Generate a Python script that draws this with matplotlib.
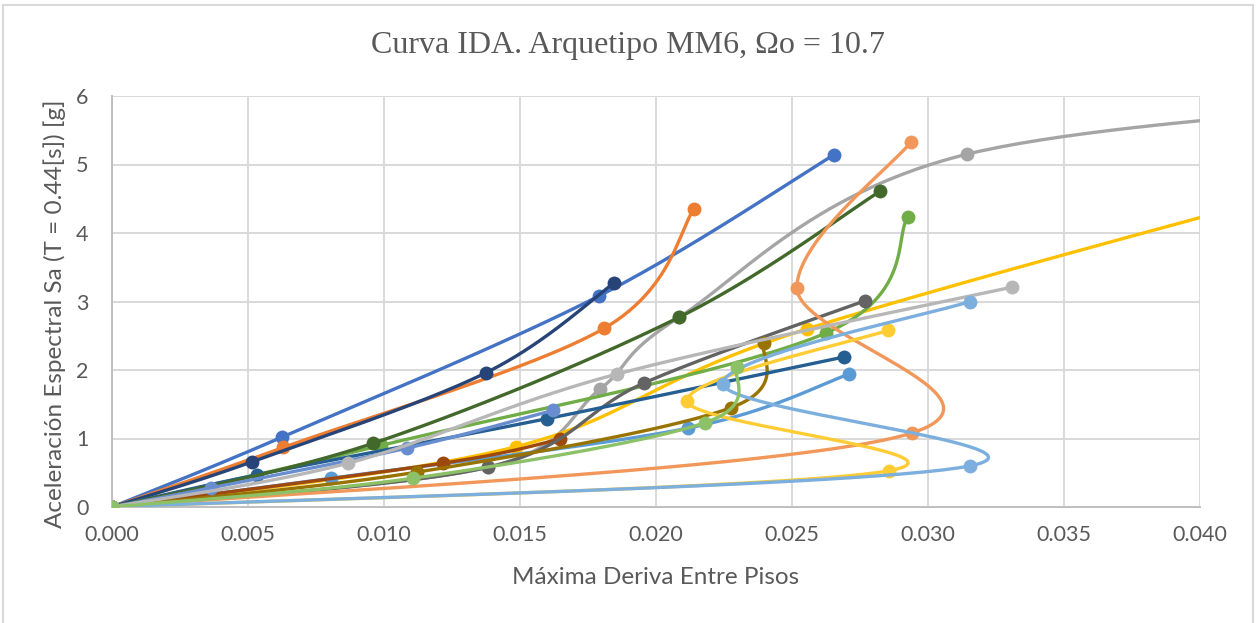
import numpy as np
import matplotlib
matplotlib.use("Agg")
import matplotlib.pyplot as plt
from matplotlib.patches import Rectangle

# ---------------- data ----------------
title = "Curva IDA. Arquetipo MM6, \u03a9o = 10.7"
x_label = "Máxima Deriva Entre Pisos"
y_label = "Aceleración Espectral Sa (T = 0.44[s]) [g]"

x_ticks = [0.000, 0.005, 0.010, 0.015, 0.020, 0.025, 0.030, 0.035, 0.040]
y_ticks = [0, 1, 2, 3, 4, 5, 6]

colors = ["#4472C4", "#ED7D31", "#A5A5A5", "#FFC000", "#5B9BD5", "#70AD47",
          "#264478", "#9E480E", "#636363", "#997300", "#255E91", "#43682B",
          "#698ED0", "#F1975A", "#B7B7B7", "#FFCD33", "#7CAFDD", "#8CC168"]

drift_01 = [0.0, 0.00625, 0.0179, 0.02654]
sa_01 = [0.0, 1.02, 3.08, 5.14]
drift_02 = [0.0, 0.0063, 0.0181, 0.0214]
sa_02 = [0.0, 0.87, 2.61, 4.35]
drift_03 = [0.0, 0.01382, 0.01794, 0.02085, 0.03143, 0.055]
sa_03 = [0.0, 0.58, 1.72, 2.77, 5.15, 6.1]
drift_04 = [0.0, 0.01485, 0.02555, 0.050]
sa_04 = [0.0, 0.88, 2.60, 5.3]
drift_05 = [0.0, 0.00805, 0.02116, 0.02710]
sa_05 = [0.0, 0.42, 1.15, 1.94]
drift_06 = [0.0, 0.0099, 0.02625, 0.02926]
sa_06 = [0.0, 0.90, 2.54, 4.23]
drift_07 = [0.0, 0.00515, 0.01375, 0.01846]
sa_07 = [0.0, 0.66, 1.96, 3.27]
drift_08 = [0.0, 0.01217, 0.01647]
sa_08 = [0.0, 0.64, 0.99]
drift_09 = [0.0, 0.01382, 0.01956, 0.02768]
sa_09 = [0.0, 0.58, 1.81, 3.01]
drift_10 = [0.0, 0.01123, 0.02276, 0.02397]
sa_10 = [0.0, 0.51, 1.45, 2.39]
drift_11 = [0.0, 0.00533, 0.0160, 0.02691]
sa_11 = [0.0, 0.47, 1.29, 2.19]
drift_12 = [0.0, 0.0096, 0.02085, 0.02824]
sa_12 = [0.0, 0.93, 2.77, 4.61]
drift_13 = [0.0, 0.00364, 0.01085, 0.01621]
sa_13 = [0.0, 0.28, 0.86, 1.41]
drift_14 = [0.0, 0.0294, 0.02518, 0.02938]
sa_14 = [0.0, 1.08, 3.20, 5.33]
drift_15 = [0.0, 0.00868, 0.01856, 0.03309]
sa_15 = [0.0, 0.64, 1.94, 3.21]
drift_16 = [0.0, 0.02857, 0.02114, 0.02853]
sa_16 = [0.0, 0.53, 1.55, 2.58]
drift_17 = [0.0, 0.03154, 0.02246, 0.03154]
sa_17 = [0.0, 0.60, 1.80, 3.00]
drift_18 = [0.0, 0.01107, 0.0218, 0.02296]
sa_18 = [0.0, 0.42, 1.23, 2.04]

drifts = [drift_01, drift_02, drift_03, drift_04, drift_05, drift_06, drift_07,
          drift_08, drift_09, drift_10, drift_11, drift_12, drift_13, drift_14,
          drift_15, drift_16, drift_17, drift_18]
sas = [sa_01, sa_02, sa_03, sa_04, sa_05, sa_06, sa_07, sa_08, sa_09, sa_10,
       sa_11, sa_12, sa_13, sa_14, sa_15, sa_16, sa_17, sa_18]

# ---------------- figure ----------------
W, H = 1257, 623
fig = plt.figure(figsize=(W / 100, H / 100), dpi=100)
ax = fig.add_axes([112 / W, 1 - 507 / H, (1200 - 112) / W, (507 - 96) / H])
ax.set_xlim(0, 0.040)
ax.set_ylim(0, 6)

text_col = "#595959"
grid_col = "#D9D9D9"
ax.set_xticks(x_ticks)
ax.set_yticks(y_ticks)
ax.set_xticklabels([f"{v:.3f}" for v in x_ticks], fontfamily="Lato",
                   fontsize=15.5, color=text_col)
ax.set_yticklabels([f"{v:d}" for v in y_ticks], fontfamily="Lato",
                   fontsize=15.5, color=text_col)
ax.tick_params(length=0, pad=13)
ax.tick_params(axis="y", pad=17)
ax.grid(True, color=grid_col, lw=1.4)
ax.set_axisbelow(True)
for s in ["top", "right"]:
    ax.spines[s].set_visible(False)
for s in ["left", "bottom"]:
    ax.spines[s].set_color("#BFBFBF")
    ax.spines[s].set_linewidth(1.4)

fig.canvas.draw()


def smooth_curve(xs, ys, n=60):
    """Excel-like smoothed line: cubic Bezier with Catmull-Rom tangents
    computed in display space."""
    pts = ax.transData.transform(np.column_stack([xs, ys]))
    m = len(pts)
    out = [pts[0]]
    t = np.linspace(0, 1, n)[1:]
    for i in range(m - 1):
        p0 = pts[i - 1] if i > 0 else pts[i]
        p1 = pts[i]
        p2 = pts[i + 1]
        p3 = pts[i + 2] if i + 2 < m else pts[i + 1]
        c1 = p1 + (p2 - p0) / 6.0
        c2 = p2 - (p3 - p1) / 6.0
        seg = ((1 - t) ** 3)[:, None] * p1 + (3 * (1 - t) ** 2 * t)[:, None] * c1 \
            + (3 * (1 - t) * t ** 2)[:, None] * c2 + (t ** 3)[:, None] * p2
        out.extend(seg)
    out = np.array(out)
    data = ax.transData.inverted().transform(out)
    return data[:, 0], data[:, 1]


z = 3
for xs, ys, c in zip(drifts, sas, colors):
    cx, cy = smooth_curve(xs, ys)
    ax.plot(cx, cy, color=c, lw=2.4, solid_capstyle="round", zorder=z)
    ax.plot(xs, ys, linestyle="none", marker="o", markersize=10,
            color=c, markeredgewidth=0, zorder=z + 0.5)
    z += 1

# texts
fig.text(628 / W, 1 - 45 / H, title, ha="center", va="center",
         fontfamily="Liberation Serif", fontsize=23, color=text_col)
fig.text(656 / W, 1 - 578 / H, x_label, ha="center", va="center",
         fontfamily="Lato", fontsize=17.5, color=text_col)
fig.text(55 / W, 1 - 314 / H, y_label, ha="center", va="center",
         rotation=90, fontfamily="Lato", fontsize=17.5, color=text_col)

# chart area border
fig.patches.append(Rectangle((3 / W, -0.02), (1253 - 3) / W, 1 - 5 / H + 0.02,
                             transform=fig.transFigure, fill=False,
                             edgecolor="#D9D9D9", lw=1.5))

fig.savefig("out.png", dpi=100)
